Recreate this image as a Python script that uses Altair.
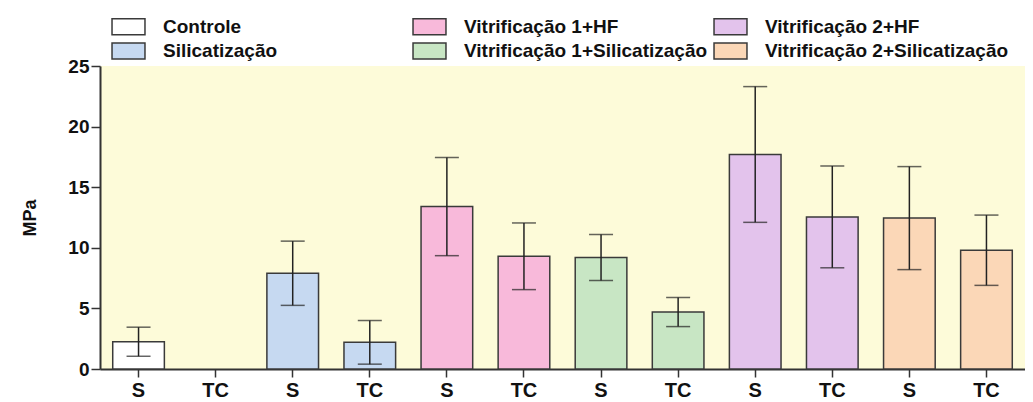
import altair as alt
import pandas as pd

groups = ["Controle", "Silicatização", "Vitrificação 1+HF", "Vitrificação 1+Silicatização",
          "Vitrificação 2+HF", "Vitrificação 2+Silicatização"]
conditions = ["S", "TC"]
means_S = [2.25, 7.9, 13.4, 9.2, 17.7, 12.45]
means_TC = [0.0, 2.2, 9.3, 4.7, 12.55, 9.8]
sd_S = [1.2, 2.65, 4.05, 1.9, 5.6, 4.25]
sd_TC = [0.0, 1.8, 2.75, 1.2, 4.2, 2.9]
colors = ["#ffffff", "#c6d9f1", "#f8b9da", "#c8e6c4", "#e3c3ec", "#fbd7b7"]

rows = []
for i, g in enumerate(groups):
    for c, m, s in ((conditions[0], means_S[i], sd_S[i]), (conditions[1], means_TC[i], sd_TC[i])):
        rows.append({"pos": f"{g}|{c}", "group": g, "cond": c, "mean": m,
                     "lo": max(m - s, 0), "hi": m + s, "sd": s})
df = pd.DataFrame(rows)
order = list(df["pos"])

FONT = "Liberation Sans"

x_scale = alt.Scale(domain=order, paddingInner=0.33, paddingOuter=0.165)
x_enc = alt.X("pos:N", sort=order, title=None, scale=x_scale,
              axis=alt.Axis(labelExpr="split(datum.label, '|')[1]", labelAngle=0,
                            labelFont=FONT, labelFontWeight="bold",
                            labelFontSize=20, labelColor="#111", tickSize=8,
                            tickColor="#333", tickWidth=1.5, domainColor="#333",
                            domainWidth=2, labelPadding=3))
y_scale = alt.Scale(domain=[0, 25], nice=False)

bar_df = df[df["mean"] > 0]
bars = alt.Chart(bar_df).mark_bar(stroke="#3a3a3a", strokeWidth=1.5).encode(
    x=x_enc,
    y=alt.Y("mean:Q", scale=y_scale, title="MPa",
            axis=alt.Axis(values=[0, 5, 10, 15, 20, 25], labelFont=FONT,
                          labelFontWeight="bold", labelFontSize=19, labelColor="#111",
                          tickSize=9, tickColor="#333", tickWidth=1.5, domainColor="#333",
                          domainWidth=2, grid=False, labelPadding=2,
                          titleFont=FONT, titleFontWeight="bold",
                          titleFontSize=18, titleColor="#111", titlePadding=28)),
    fill=alt.Fill("group:N", scale=alt.Scale(domain=groups, range=colors),
                  legend=alt.Legend(title=None, orient="none", legendX=19, legendY=-49,
                                    columns=3, direction="vertical", gridAlign="all",
                                    columnPadding=3, rowPadding=1.5,
                                    symbolType="M-2.06,-1H2.06V1H-2.06Z", symbolSize=256,
                                    symbolStrokeColor="#3a3a3a", symbolStrokeWidth=1.5,
                                    labelFont=FONT, labelFontWeight="bold",
                                    labelFontSize=19, labelColor="#111", labelOffset=25,
                                    labelLimit=400)),
)

err_df = df[df["sd"] > 0]
rules = alt.Chart(err_df).mark_rule(color="#222", strokeWidth=1.5).encode(
    x=alt.X("pos:N", sort=order, scale=x_scale), y=alt.Y("lo:Q", scale=y_scale), y2="hi:Q")
caps_hi = alt.Chart(err_df).mark_tick(color="#222", thickness=1.5, size=24,
                                      orient="horizontal").encode(
    x=alt.X("pos:N", sort=order, scale=x_scale), y=alt.Y("hi:Q", scale=y_scale))
caps_lo = alt.Chart(err_df).mark_tick(color="#222", thickness=1.5, size=24,
                                      orient="horizontal").encode(
    x=alt.X("pos:N", sort=order, scale=x_scale), y=alt.Y("lo:Q", scale=y_scale))

chart = alt.layer(bars, rules, caps_hi, caps_lo).properties(
    width=925, height=303,
    autosize=alt.AutoSizeParams(type="none"),
    padding={"left": 92, "top": 58, "right": 0, "bottom": 32},
    background="white",
).configure_view(fill="#fdfbd9", stroke=None)

chart.save("out.html", embed_options={"renderer": "svg", "actions": False})
